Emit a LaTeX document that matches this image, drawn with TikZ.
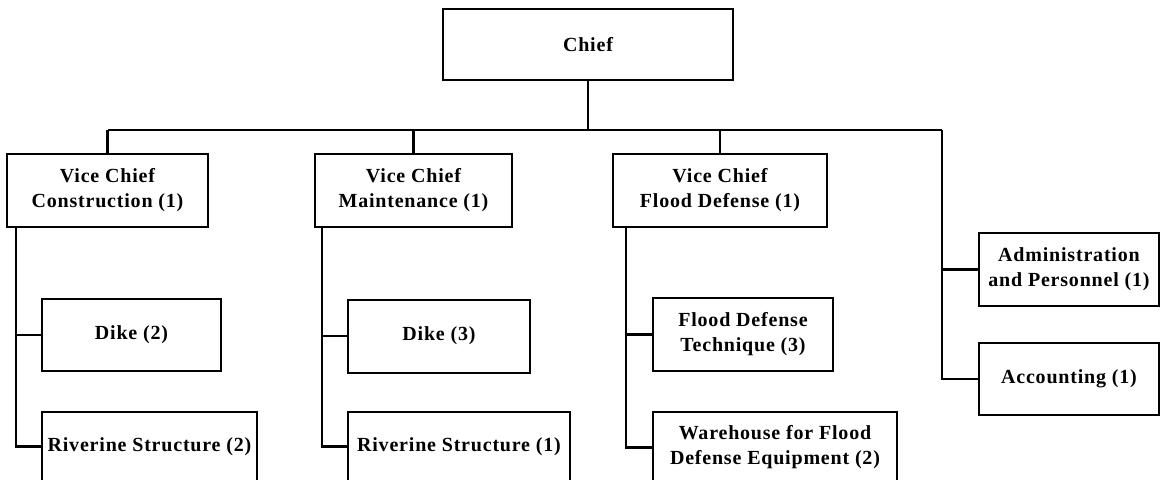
\documentclass[tikz,border=0pt]{standalone}
\usepackage{fontspec}
\setmainfont[LetterSpace=4]{Liberation Serif}
\begin{document}
\begin{tikzpicture}[x=0.5pt,y=-0.5pt,
    unit/.style={draw, line width=1pt, align=center, inner sep=1.5pt,
      font=\bfseries\fontsize{10}{12.5}\selectfont, minimum height=36.5pt},
    link/.style={line width=1.2pt}]
        \useasboundingbox (0,0) rectangle (1163,479);
        \clip (0,0) rectangle (1163,479);
        % boxes
        \node[unit, minimum width=145pt, minimum height=35.5pt] (chief) at (588,44.5) {Chief};
        \node[unit, minimum width=100.5pt] (vcc) at (107.5,190.5) {Vice Chief\\Construction (1)};
        \node[unit, minimum width=98.5pt] (vcm) at (413.5,190.5) {Vice Chief\\Maintenance (1)};
        \node[unit, minimum width=107pt] (vcf) at (720,190.5) {Vice Chief\\Flood Defense (1)};
        \node[unit, minimum width=89.5pt, minimum height=36pt] (dike1) at (131.5,335) {Dike (2)};
        \node[unit, minimum width=107.5pt, minimum height=35pt] (riv1) at (149.5,446.5) {Riverine Structure (2)};
        \node[unit, minimum width=91pt] (dike2) at (439,336) {Dike (3)};
        \node[unit, minimum width=111pt, minimum height=35pt] (riv2) at (459,446.5) {Riverine Structure (1)};
        \node[unit, minimum width=90pt] (fdt) at (743,334.5) {Flood Defense\\Technique (3)};
        \node[unit, minimum width=122pt, minimum height=35.5pt] (ware) at (775,447.5) {Warehouse for Flood\\Defense Equipment (2)};
        \node[unit, minimum width=90pt] (admin) at (1069,269.5) {Administration\\and Personnel (1)};
        \node[unit, minimum width=90pt, minimum height=36pt] (acct) at (1069,379) {Accounting (1)};
        % top bus
        \coordinate (busL) at (vcc.north |- 0,130);
        \coordinate (busR) at (942,130);
        \draw[link] (chief.south) -- (chief.south |- busL);
        \draw[link] (busL) -- (busR);
        \foreach \v in {vcc,vcm,vcf}
          \draw[link] (\v.north) -- (\v.north |- busL);
        \draw[link] (busR) |- (admin.west);
        \draw[link] (busR) |- (acct.west);
        % sections under each vice chief
        \coordinate (c1) at ([xshift=-12.5pt]dike1.west |- vcc.south);
        \coordinate (c2) at ([xshift=-12.5pt]dike2.west |- vcm.south);
        \coordinate (c3) at ([xshift=-13pt]fdt.west |- vcf.south);
        \draw[link] (c1) |- (dike1.west);
        \draw[link] (c1) |- (riv1.west);
        \draw[link] (c2) |- (dike2.west);
        \draw[link] (c2) |- (riv2.west);
        \draw[link] (c3) |- (fdt.west);
        \draw[link] (c3) |- (ware.west);
\end{tikzpicture}
\end{document}
